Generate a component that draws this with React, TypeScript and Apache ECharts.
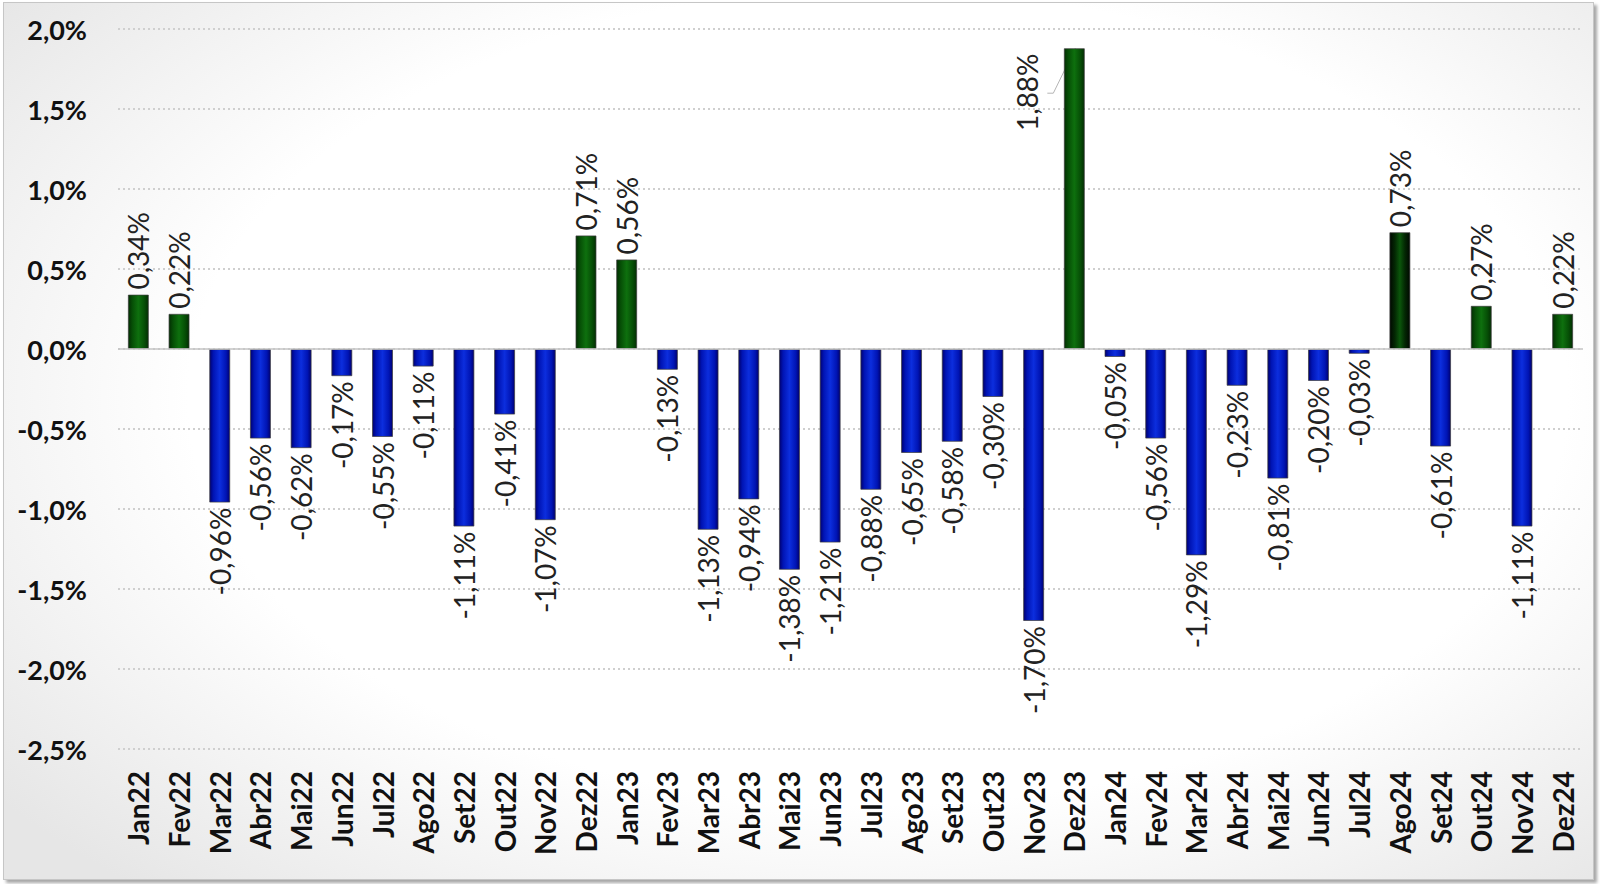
import React, { useEffect, useRef } from "react";
import * as echarts from "echarts";

const categories = [
  "Jan22", "Fev22", "Mar22", "Abr22", "Mai22", "Jun22", "Jul22", "Ago22", "Set22", "Out22", "Nov22", "Dez22",
  "Jan23", "Fev23", "Mar23", "Abr23", "Mai23", "Jun23", "Jul23", "Ago23", "Set23", "Out23", "Nov23", "Dez23",
  "Jan24", "Fev24", "Mar24", "Abr24", "Mai24", "Jun24", "Jul24", "Ago24", "Set24", "Out24", "Nov24", "Dez24",
];

const values = [
  0.34, 0.22, -0.96, -0.56, -0.62, -0.17, -0.55, -0.11, -1.11, -0.41, -1.07, 0.71,
  0.56, -0.13, -1.13, -0.94, -1.38, -1.21, -0.88, -0.65, -0.58, -0.30, -1.70, 1.88,
  -0.05, -0.56, -1.29, -0.23, -0.81, -0.20, -0.03, 0.73, -0.61, 0.27, -1.11, 0.22,
];

const yTicks = [-2.5, -2.0, -1.5, -1.0, -0.5, 0, 0.5, 1.0, 1.5, 2.0];

const movedLabelIndex = 23;
const darkIndex = 31;

const fmt = (v: number, d: number) => v.toFixed(d).replace(".", ",") + "%";

const grad = (stops: [number, string][]) =>
  new echarts.graphic.LinearGradient(1, 0, 0, 0, stops.map(([offset, color]) => ({ offset, color })));

const blue = grad([
  [0, "#000070"], [0.18, "#0014b4"], [0.5, "#0c2ede"], [0.82, "#0014b4"], [1, "#000070"],
]);
const green = grad([
  [0, "#032e03"], [0.2, "#064f06"], [0.5, "#0e700e"], [0.8, "#064f06"], [1, "#032e03"],
]);
const darkGreen = grad([
  [0, "#000800"], [0.25, "#032803"], [0.5, "#0b560b"], [0.75, "#032803"], [1, "#000800"],
]);

export default function App() {
  const ref = useRef<HTMLDivElement>(null);
  useEffect(() => {
    if (!ref.current) return;
    const chart = echarts.init(ref.current, null, { renderer: "svg" });
    const data = values.map((v, i) => {
      const pos = v >= 0;
      return {
        value: v,
        itemStyle: { color: i === darkIndex ? darkGreen : pos ? green : blue },
        label: {
          position: pos ? "top" : "bottom",
          align: pos ? "left" : "right",
        },
      };
    });
    chart.setOption({
      animation: false,
      backgroundColor: "transparent",
      grid: { left: 118, right: 17, top: 29, bottom: 135 },
      xAxis: {
        type: "category",
        data: categories,
        axisLine: { show: false, onZero: false },
        axisTick: { show: false },
        axisLabel: {
          rotate: 90,
          margin: 22,
          fontFamily: "Lato",
          fontWeight: "bold",
          fontSize: 28,
          color: "#111",
          interval: 0,
        },
      },
      yAxis: {
        type: "value",
        min: -2.5,
        max: 2.0,
        interval: 0.5,
        axisLine: { show: false },
        axisTick: { show: false },
        axisLabel: {
          margin: 31,
          fontFamily: "Lato",
          fontWeight: "bold",
          fontSize: 27,
          color: "#111",
          formatter: (v: number) => (yTicks.includes(Math.round(v * 10) / 10) ? fmt(v, 1) : ""),
        },
        splitLine: { lineStyle: { color: "#cfcfcf", type: [2, 3], width: 2 } },
      },
      series: [
        {
          type: "bar",
          data,
          barWidth: 21,
          itemStyle: { borderColor: "rgba(60,60,60,0.7)", borderWidth: 1 },
          label: {
            show: true,
            rotate: 90,
            verticalAlign: "middle",
            distance: 5,
            fontFamily: "Lato",
            fontSize: 28,
            color: "#222",
            formatter: (p: any) => fmt(p.value, 2),
          },
          labelLayout: (p: any) => {
            if (p.dataIndex !== movedLabelIndex) return {};
            const r = p.rect;
            return {
              x: r.x - 37,
              y: r.y + 44,
              align: "center",
              verticalAlign: "middle",
            };
          },
          markLine: {
            silent: true,
            symbol: "none",
            label: { show: false },
            lineStyle: { color: "#c4c4c4", type: "solid", width: 1.5 },
            data: [{ yAxis: 0 }],
          },
        },
      ],
    });
    const top = chart.convertToPixel({ seriesIndex: 0 }, [movedLabelIndex, values[movedLabelIndex]]) as number[];
    if (top && isFinite(top[0])) {
      chart.setOption({
        graphic: [
          {
            type: "polyline",
            silent: true,
            shape: {
              points: [
                [top[0] - 27, top[1] + 45],
                [top[0] - 21, top[1] + 45],
                [top[0] + 1, top[1]],
              ],
            },
            style: { stroke: "#b5b5b5", lineWidth: 1, fill: "none" },
          },
        ],
      });
    }
    return () => chart.dispose();
  }, []);

  return (
    <div style={{ position: "fixed", left: 0, top: 0, width: 1600, height: 884, background: "#fff" }}>
      <div
        style={{
          position: "absolute",
          left: 3,
          top: 2,
          width: 1589,
          height: 876,
          border: "1px solid #c6c6c6",
          boxShadow: "3px 3px 3px rgba(0,0,0,0.35)",
          background:
            "radial-gradient(ellipse 70% 75% at 55% 45%, #ffffff 62%, #e6e6e6 100%)",
        }}
      />
      <div ref={ref} style={{ position: "absolute", left: 0, top: 0, width: 1600, height: 884 }} />
    </div>
  );
}
